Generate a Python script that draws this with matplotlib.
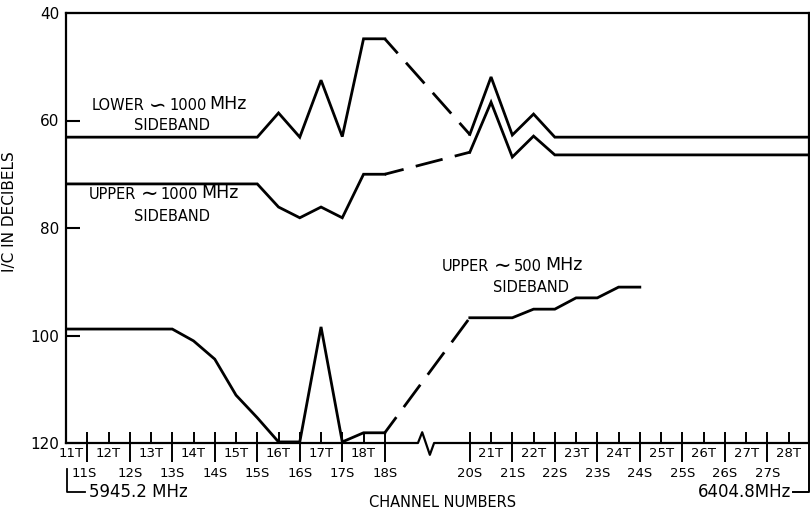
import matplotlib.pyplot as plt

# Channel positions: T channel n sits at n, S channel n half a channel to its right
t_channels = [11, 12, 13, 14, 15, 16, 17, 18, 21, 22, 23, 24, 25, 26, 27, 28]
s_channels = [11, 12, 13, 14, 15, 16, 17, 18, 20, 21, 22, 23, 24, 25, 26, 27]

# Lower ~1000 MHz sideband, solid runs either side of the missing channels
lower_1000_x1 = [11, 15.5, 16, 16.5, 17, 17.5, 18, 18.5]
lower_1000_y1 = [63.1, 63.1, 58.6, 63.1, 52.5, 63.0, 44.8, 44.8]
lower_1000_x2 = [20.5, 21, 21.5, 22, 22.5, 28.5]
lower_1000_y2 = [62.6, 51.9, 62.7, 58.8, 63.1, 63.1]

# Upper ~1000 MHz sideband
upper_1000_x1 = [11, 15.5, 16, 16.5, 17, 17.5, 18, 18.5]
upper_1000_y1 = [71.8, 71.8, 76.1, 78.1, 76.1, 78.1, 70.0, 70.0]
upper_1000_x2 = [20.5, 21, 21.5, 22, 22.5, 28.5]
upper_1000_y2 = [65.9, 56.6, 66.8, 62.9, 66.4, 66.4]

# Upper ~500 MHz sideband
upper_500_x1 = [11, 13.5, 14, 14.5, 15, 15.5, 16, 16.5, 17, 17.5, 18, 18.5]
upper_500_y1 = [98.8, 98.8, 101.0, 104.4, 111.1, 115.3, 119.8, 119.8, 98.4, 119.8, 118.1, 118.1]
upper_500_x2 = [20.5, 21.5, 22, 22.5, 23, 23.5, 24, 24.5]
upper_500_y2 = [96.7, 96.7, 95.1, 95.1, 93.0, 93.0, 91.0, 91.0]

LW = 2.0
DASH = (3, (10.0, 4.5))
XMAX = 28.48

fig = plt.figure(figsize=(8.1, 5.12), dpi=100)
ax = fig.add_axes([66 / 810, 69 / 512, 743 / 810, 430 / 512])
ax.set_xlim(11, XMAX)
ax.set_ylim(120, 40)

for side in ("left", "top", "right"):
    ax.spines[side].set_linewidth(1.6)
ax.spines["bottom"].set_visible(False)

# curves: solid where measured, dashed across the gap
for x1, y1, x2, y2 in [
    (lower_1000_x1, lower_1000_y1, lower_1000_x2, lower_1000_y2),
    (upper_1000_x1, upper_1000_y1, upper_1000_x2, upper_1000_y2),
    (upper_500_x1, upper_500_y1, upper_500_x2, upper_500_y2),
]:
    ax.plot(x1, y1, color="black", lw=LW, solid_joinstyle="miter")
    ax.plot(x2, y2, color="black", lw=LW, solid_joinstyle="miter")
    ax.plot([x1[-1], x2[0]], [y1[-1], y2[0]], color="black", lw=LW,
            linestyle=DASH)

# y axis
ax.set_yticks([40, 60, 80, 100, 120])
ax.tick_params(axis="y", direction="in", length=10, width=1.5, pad=5,
               labelsize=11)
fig.text(10 / 810, 1 - 212 / 512, "I/C IN DECIBELS", rotation=90,
         ha="center", va="center", fontsize=11)

# x axis line with a break mark over the skipped channels
ax.plot([11, 19.28, 19.38, 19.56, 19.66, XMAX],
        [120, 120, 118.0, 122.2, 120, 120],
        color="black", lw=1.6, clip_on=False)

s_pos = [c + 0.5 for c in s_channels]
ax.set_xticks(s_pos)
ax.set_xticks(t_channels, minor=True)
ax.tick_params(axis="x", which="both", direction="in", length=8, width=1.4,
               labelbottom=False)
ax.vlines(s_pos, 120, 123.6, color="black", lw=1.4, clip_on=False)

for c in t_channels:
    x = c + 0.12 if c == 11 else c
    ax.text(x, 121.9, f"{c}T", ha="center", va="center", fontsize=9.5)
for c, x in zip(s_channels, s_pos):
    if c == 11:
        ax.text(11.12, 125.6, f"{c}S", ha="left", va="center", fontsize=9.5)
    else:
        ax.text(x, 125.6, f"{c}S", ha="center", va="center", fontsize=9.5)

# frequency brackets at the band edges
ax.plot([11.02, 11.02, 11.44], [124.8, 129.1, 129.1], color="black", lw=1.3,
        clip_on=False)
ax.text(11.55, 129.1, "5945.2 MHz", ha="left", va="center", fontsize=12)
ax.plot([XMAX, XMAX, 28.1], [120, 129.1, 129.1], color="black", lw=1.4,
        clip_on=False)
ax.text(28.06, 129.1, "6404.8MHz", ha="right", va="center", fontsize=12)
ax.text(19.87, 131.0, "CHANNEL NUMBERS", ha="center", va="center",
        fontsize=10.5)


def sideband_label(x, y, word, wave, number, sub_x, sub_y):
    # word, wave sign, number and "MHz" chained left to right
    t = ax.text(x, y, word, ha="left", va="center", fontsize=10.5)
    w = ax.annotate(wave, xy=(1, 0.5), xycoords=t, xytext=(3, 0),
                    textcoords="offset points", ha="left", va="center",
                    fontsize=15)
    n = ax.annotate(number, xy=(1, 0.5), xycoords=w, xytext=(2, 0),
                    textcoords="offset points", ha="left", va="center",
                    fontsize=10.5)
    ax.annotate("MHz", xy=(1, 0), xycoords=n, xytext=(2, 0),
                textcoords="offset points", ha="left", va="bottom",
                fontsize=12.5)
    ax.text(sub_x, sub_y, "SIDEBAND", ha="center", va="center", fontsize=10.5)


sideband_label(11.61, 57.3, "LOWER", "\u223d", "1000", 13.5, 60.9)
sideband_label(11.54, 73.7, "UPPER", "\u223c", "1000", 13.49, 77.9)
sideband_label(19.85, 87.1, "UPPER", "\u223c", "500", 21.94, 91.0)

fig.savefig("out.png", dpi=100)
